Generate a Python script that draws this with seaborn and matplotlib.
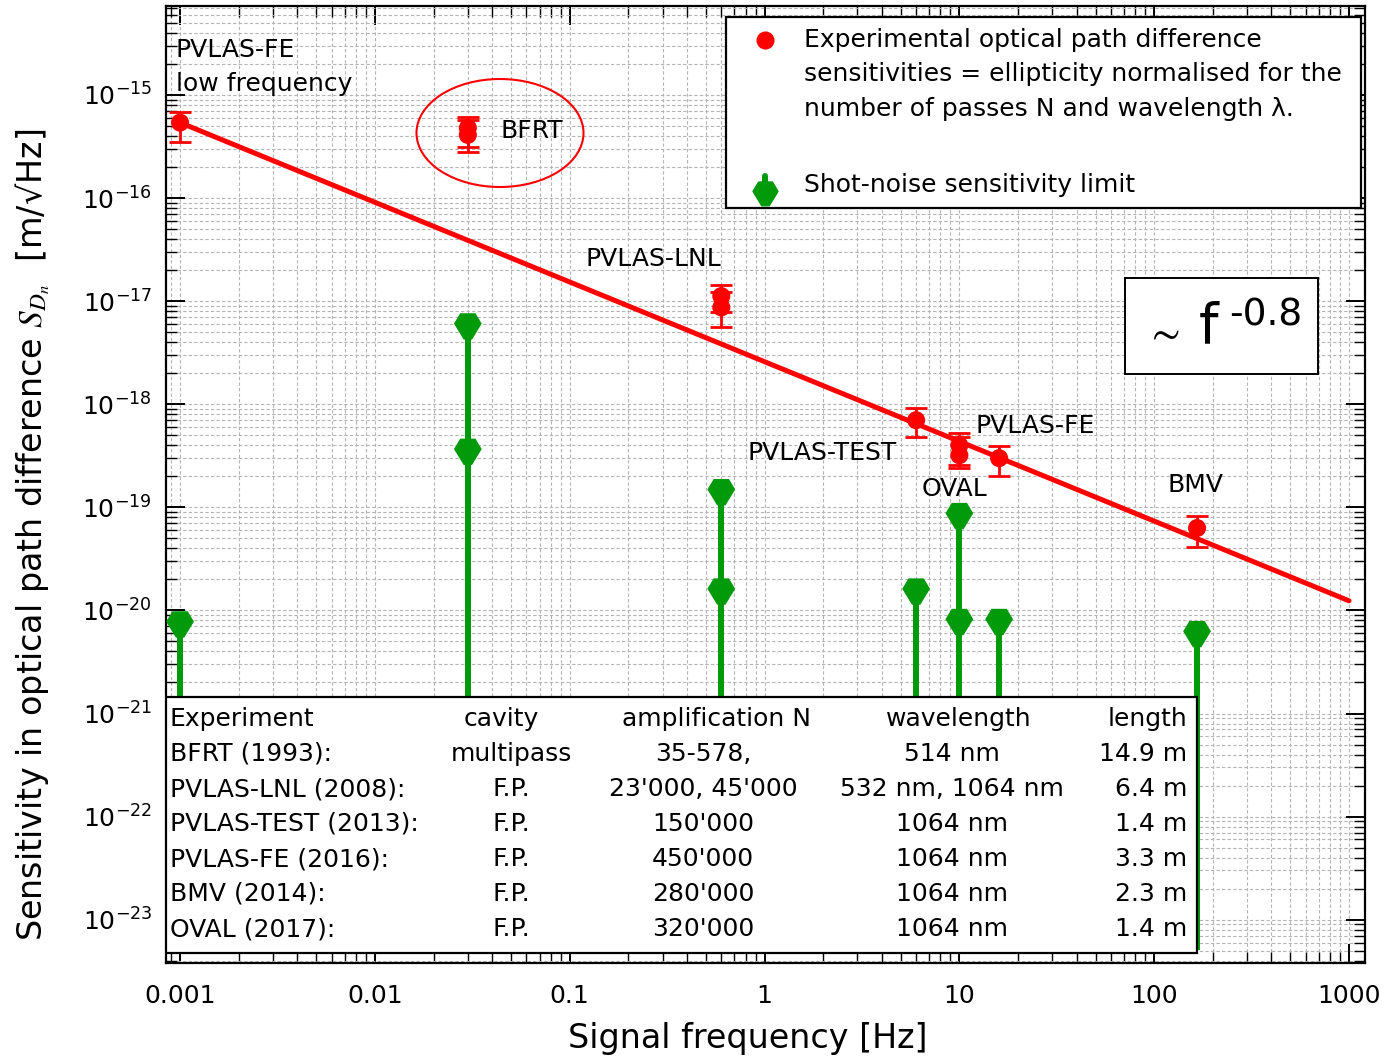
import numpy as np
import matplotlib
matplotlib.use("Agg")
import matplotlib.pyplot as plt
import seaborn as sns
from matplotlib.path import Path
from matplotlib.markers import MarkerStyle
from matplotlib.patches import Rectangle, Ellipse
from matplotlib.ticker import LogLocator, LogFormatterMathtext, FuncFormatter, NullFormatter

# Experimental optical path difference sensitivities (red points) [m/sqrt(Hz)]
exp_freq = [0.001, 0.03, 0.03, 0.6, 0.6, 6, 10, 10, 16, 166]
exp_sens = [5.4e-16, 4.8e-16, 4.1e-16, 1.12e-17, 8.7e-18, 7.0e-19, 4.0e-19, 3.2e-19, 3.0e-19, 6.3e-20]
exp_upper = [6.8e-16, 6.1e-16, 5.7e-16, 1.44e-17, 1.23e-17, 9.2e-19, 5.3e-19, 4.8e-19, 3.9e-19, 8.3e-20]
exp_lower = [3.5e-16, 3.1e-16, 2.8e-16, 7.9e-18, 5.6e-18, 4.8e-19, 2.6e-19, 2.4e-19, 2.0e-19, 4.1e-20]

# Shot-noise sensitivity limits (green markers)
shot_freq = [0.001, 0.03, 0.03, 0.6, 0.6, 6, 10, 10, 16, 166]
shot_sens = [7.2e-21, 5.6e-18, 3.4e-19, 1.38e-19, 1.5e-20, 1.5e-20, 8.1e-20, 7.6e-21, 7.6e-21, 5.8e-21]

# ~ f^-0.8 trend line end points
fit_freq = [1e-3, 1e3]
fit_sens = [5.4e-16, 1.24e-20]

x_ticks = [0.001, 0.01, 0.1, 1, 10, 100, 1000]
y_ticks = [1e-23, 1e-22, 1e-21, 1e-20, 1e-19, 1e-18, 1e-17, 1e-16, 1e-15]

table_header = ["Experiment", "cavity", "amplification N", "wavelength", "length"]
table_rows = [
    ["BFRT (1993):", "multipass", "35-578,", "514 nm", "14.9 m"],
    ["PVLAS-LNL (2008):", "F.P.", "23'000, 45'000", "532 nm, 1064 nm", "6.4 m"],
    ["PVLAS-TEST (2013):", "F.P.", "150'000", "1064 nm", "1.4 m"],
    ["PVLAS-FE (2016):", "F.P.", "450'000", "1064 nm", "3.3 m"],
    ["BMV (2014):", "F.P.", "280'000", "1064 nm", "2.3 m"],
    ["OVAL (2017):", "F.P.", "320'000", "1064 nm", "1.4 m"],
]

RED = '#ff0000'
GREEN = '#009a0a'

sns.set_style("ticks")
plt.rcParams['font.family'] = ['DejaVu Sans']
plt.rcParams['mathtext.fontset'] = 'stix'
plt.rcParams['text.color'] = 'black'
plt.rcParams['axes.labelcolor'] = 'black'
plt.rcParams['xtick.color'] = 'black'
plt.rcParams['ytick.color'] = 'black'

W, H = 1389, 1058
L, R, T, B = 166, 1365, 6, 963
fig = plt.figure(figsize=(W / 100, H / 100), dpi=100)
ax = fig.add_axes([L / W, 1 - B / H, (R - L) / W, (B - T) / H])


def axp(px, py):
    # pixel position in the picture -> axes fraction
    return (px - L) / (R - L), (B - py) / (B - T)


ax.set_xscale('log')
ax.set_yscale('log')

# ticks
ax.set_xticks(x_ticks)
ax.set_yticks(y_ticks)
ax.xaxis.set_minor_locator(LogLocator(base=10, subs=np.arange(2, 10), numticks=100))
ax.yaxis.set_minor_locator(LogLocator(base=10, subs=np.arange(2, 10), numticks=200))
ax.xaxis.set_major_formatter(FuncFormatter(lambda v, p: f'{v:g}'))
ax.xaxis.set_minor_formatter(NullFormatter())
ax.yaxis.set_major_formatter(LogFormatterMathtext())
ax.yaxis.set_minor_formatter(NullFormatter())
ax.set_xlim(8.47e-4, 1208)
ax.set_ylim(3.8e-24, 7.3e-15)
ax.tick_params(which='both', direction='in', top=True, right=True, colors='black')
ax.tick_params(which='major', length=14, width=1.4, labelsize=18)
ax.tick_params(which='minor', length=8, width=1.0)
ax.tick_params(axis='x', which='major', pad=15)
ax.tick_params(axis='y', which='major', pad=10)
for s in ax.spines.values():
    s.set_linewidth(1.6)
    s.set_color('black')

# grid
ax.grid(True, which='both', color='#b4b4b4', linestyle=(0, (3, 2)), linewidth=0.8)
ax.set_axisbelow(True)

# shot-noise stems (down to the foot of the table) and markers
stem_foot = 5.1e-24
ax.vlines(shot_freq, stem_foot, shot_sens, color=GREEN, linewidth=4.3, zorder=3)
shield = Path([(-0.55, 1.0), (0.55, 1.0), (1.0, 0.25), (0.3, -0.9), (-0.3, -0.9), (-1.0, 0.25), (-0.55, 1.0)])
sns.scatterplot(x=shot_freq, y=shot_sens, marker=MarkerStyle(shield), s=20 ** 2,
                color=GREEN, edgecolor='none', zorder=4, ax=ax)

# trend line
sns.lineplot(x=fit_freq, y=fit_sens, color=RED, linewidth=3.6, zorder=4, ax=ax)

# experimental points
exp_sens_a = np.array(exp_sens)
yerr = [exp_sens_a - np.array(exp_lower), np.array(exp_upper) - exp_sens_a]
ax.errorbar(exp_freq, exp_sens, yerr=yerr, fmt='none', ecolor=RED, elinewidth=2,
            capsize=8, capthick=2, zorder=5)
sns.scatterplot(x=exp_freq, y=exp_sens, marker='o', s=13 ** 2, color=RED,
                edgecolor='none', zorder=6, ax=ax)

# labels of the experiments
fs = 18
for txt, px, py in [("PVLAS-FE", 176, 50), ("low frequency", 176, 84),
                    ("BFRT", 500, 131), ("PVLAS-LNL", 586, 259),
                    ("PVLAS-TEST", 748, 453), ("PVLAS-FE", 975, 426),
                    ("OVAL", 922, 489), ("BMV", 1168, 485)]:
    ax.text(*axp(px, py), txt, transform=ax.transAxes, fontsize=fs, ha='left', va='center', zorder=7)

ax.add_patch(Ellipse(axp(500, 133), 167 / (R - L), 108 / (B - T), transform=ax.transAxes,
                     fill=False, edgecolor=RED, linewidth=1.5, zorder=7))

# legend box
x0, y0 = axp(726, 208)
x1, y1 = axp(1361, 17)
ax.add_patch(Rectangle((x0, y0), x1 - x0, y1 - y0, transform=ax.transAxes, facecolor='white',
                       edgecolor='black', linewidth=1.6, zorder=8))
ax.plot(*axp(765, 40), 'o', color=RED, markersize=12, transform=ax.transAxes, zorder=9)
ax.plot([axp(765, 176)[0]] * 2, [axp(765, 176)[1], axp(765, 190)[1]], color=GREEN,
        linewidth=4.3, transform=ax.transAxes, zorder=9)
ax.plot(*axp(765, 194), marker=MarkerStyle(shield), color=GREEN, markersize=18,
        linestyle='none', transform=ax.transAxes, zorder=9)
for txt, py in [("Experimental optical path difference", 40),
                ("sensitivities = ellipticity normalised for the", 74),
                ("number of passes N and wavelength \u03bb.", 109),
                ("Shot-noise sensitivity limit", 185)]:
    ax.text(*axp(804, py), txt, transform=ax.transAxes, fontsize=fs, ha='left', va='center', zorder=9)

# power-law box
x0, y0 = axp(1125, 374)
x1, y1 = axp(1318, 278)
ax.add_patch(Rectangle((x0, y0), x1 - x0, y1 - y0, transform=ax.transAxes, facecolor='white',
                       edgecolor='black', linewidth=1.4, zorder=8))
ax.text(*axp(1162, 333), r'$\sim$', transform=ax.transAxes, fontsize=30, ha='center', va='center', zorder=9)
ax.text(*axp(1208, 327), 'f', transform=ax.transAxes, fontsize=40, ha='center', va='center', zorder=9)
ax.text(*axp(1229, 316), '-0.8', transform=ax.transAxes, fontsize=27, ha='left', va='center', zorder=9)

# table box
x0, y0 = axp(166, 953)
x1, y1 = axp(1197, 697)
ax.add_patch(Rectangle((x0, y0), x1 - x0, y1 - y0, transform=ax.transAxes, facecolor='white',
                       edgecolor='black', linewidth=1.6, zorder=10))
head_x = [(170, 'left'), (501, 'center'), (716, 'center'), (959, 'center'), (1187, 'right')]
data_x = [(170, 'left'), (511, 'center'), (703, 'center'), (952, 'center'), (1187, 'right')]
for j, h in enumerate(table_header):
    ax.text(*axp(head_x[j][0], 719), h, transform=ax.transAxes, fontsize=fs,
            ha=head_x[j][1], va='center', zorder=11)
for i, row in enumerate(table_rows):
    for j, cell in enumerate(row):
        ax.text(*axp(data_x[j][0], 754 + 35 * i), cell, transform=ax.transAxes, fontsize=fs,
                ha=data_x[j][1], va='center', zorder=11)

ax.set_xlabel('Signal frequency [Hz]', fontsize=24)
ax.xaxis.set_label_coords(*axp(748, 1022))
ax.set_ylabel('Sensitivity in optical path difference $S_{D_n}$  [m/\u221aHz]', fontsize=24)
ax.yaxis.set_label_coords(*axp(52, 535))

fig.savefig('out.png', dpi=100)
